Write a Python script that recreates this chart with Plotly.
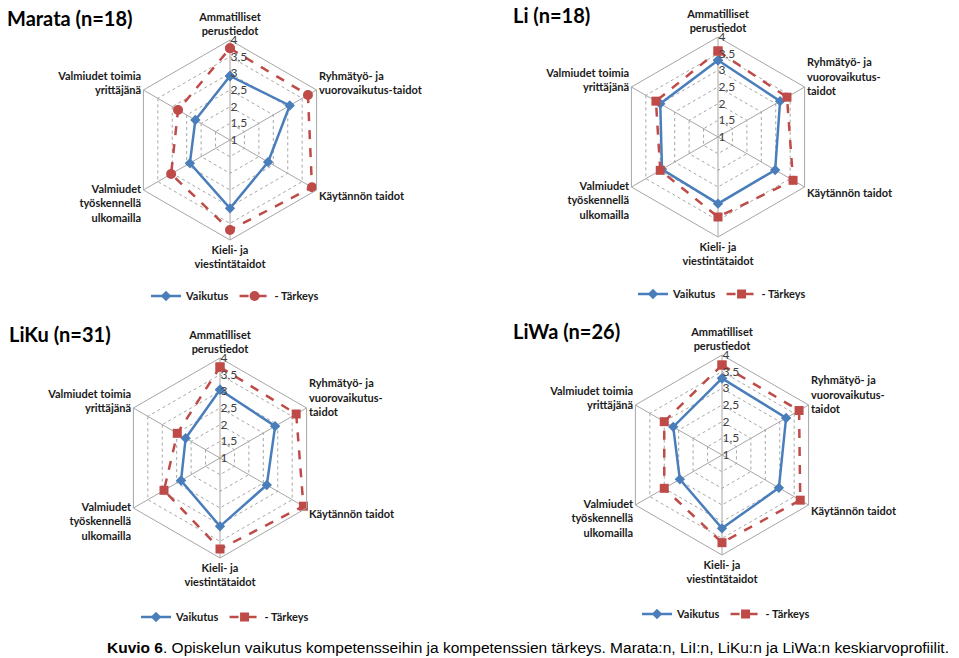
import plotly.graph_objects as go

W, H = 959, 658

# ---- data ----
cat_base = ["Ammatilliset<br>perustiedot",
            "Ryhmätyö- ja<br>vuorovaikutus-<br>taidot",
            "Käytännön taidot",
            "Kieli- ja<br>viestintätaidot",
            "Valmiudet<br>työskennellä<br>ulkomailla",
            "Valmiudet toimia<br>yrittäjänä"]
cat_marata = ["Ammatilliset<br>perustiedot",
              "Ryhmätyö- ja<br>vuorovaikutus-taidot",
              "Käytännön taidot",
              "Kieli- ja<br>viestintätaidot",
              "Valmiudet<br>työskennellä<br>ulkomailla",
              "Valmiudet toimia<br>yrittäjänä"]

titles = ["Marata (n=18)", "Li (n=18)", "LiKu (n=31)", "LiWa (n=26)"]

marata_vaikutus = [2.92, 3.07, 2.32, 3.05, 2.39, 2.20]
marata_tarkeys = [3.75, 3.70, 3.84, 3.70, 3.04, 2.80]
li_vaikutus = [3.30, 3.15, 2.98, 3.00, 2.94, 3.00]
li_tarkeys = [3.58, 3.39, 3.60, 3.40, 3.00, 3.15]
liku_vaikutus = [3.05, 2.91, 2.62, 3.05, 2.35, 2.19]
liku_tarkeys = [3.73, 3.64, 3.89, 3.73, 2.94, 2.48]
liwa_vaikutus = [3.30, 3.22, 2.97, 3.20, 2.46, 2.69]
liwa_tarkeys = [3.70, 3.67, 3.71, 3.63, 3.00, 3.00]

radial_ticks = [1, 1.5, 2, 2.5, 3, 3.5, 4]
radial_ticktext = ["1", "1,5", "2", "2,5", "3", "3,5", "4"]

series_names = ["Vaikutus", "- Tärkeys"]

# ---- layout helpers ----
panels = [
    dict(cats=cat_marata, v=marata_vaikutus, t=marata_tarkeys, sym="circle",
         c=(230, 140), title_xy=(5, 18), leg=(235, 296)),
    dict(cats=cat_base, v=li_vaikutus, t=li_tarkeys, sym="square",
         c=(718, 137), title_xy=(511, 15), leg=(722, 294)),
    dict(cats=cat_base, v=liku_vaikutus, t=liku_tarkeys, sym="square",
         c=(220, 458), title_xy=(7, 334), leg=(225, 617)),
    dict(cats=cat_base, v=liwa_vaikutus, t=liwa_tarkeys, sym="square",
         c=(722, 455), title_xy=(511, 331), leg=(726, 614)),
]
R = 100

BLUE = "#4A7EBB"
RED = "#BE4B48"
FONT = "Lato"

fig = go.Figure()
layout_extra = {}
annotations = []

for i, p in enumerate(panels):
    pid = "polar" if i == 0 else f"polar{i+1}"
    lid = "legend" if i == 0 else f"legend{i+1}"
    theta = p["cats"] + [p["cats"][0]]
    fig.add_trace(go.Scatterpolar(
        r=p["v"] + [p["v"][0]], theta=theta, mode="lines+markers",
        name=series_names[0], subplot=pid, legend=lid,
        line=dict(color=BLUE, width=2.5),
        marker=dict(symbol="diamond", size=8, color=BLUE)))
    fig.add_trace(go.Scatterpolar(
        r=p["t"] + [p["t"][0]], theta=theta, mode="lines+markers",
        name=series_names[1], subplot=pid, legend=lid,
        line=dict(color=RED, width=2.5, dash="dash"),
        marker=dict(symbol=p["sym"], size=10 if p["sym"] == "circle" else 9, color=RED)))
    cx, cy = p["c"]
    layout_extra[pid] = dict(
        domain=dict(x=[(cx - R) / W, (cx + R) / W], y=[1 - (cy + R) / H, 1 - (cy - R) / H]),
        gridshape="linear",
        bgcolor="white",
        radialaxis=dict(range=[1, 4], tickvals=radial_ticks, ticktext=radial_ticktext,
                        angle=90, tickangle=90, side="clockwise", showline=False, ticks="",
                        gridcolor="#A6A6A6", griddash="dot", gridwidth=1,
                        tickfont=dict(family=FONT, size=12, color="#404040")),
        angularaxis=dict(direction="clockwise", rotation=90, type="category",
                         categoryarray=p["cats"],
                         showline=True, linecolor="#A6A6A6", linewidth=1,
                         gridcolor="#A6A6A6", gridwidth=1, ticks="",
                         tickfont=dict(family=FONT, size=11, color="#1a1a1a", weight="bold")),
    )
    lx, ly = p["leg"]
    layout_extra[lid] = dict(orientation="h", x=lx / W, y=1 - ly / H,
                             xanchor="center", yanchor="middle",
                             font=dict(family=FONT, size=11, color="#1a1a1a", weight="bold"),
                             bgcolor="rgba(0,0,0,0)", itemwidth=30)
    tx, ty = p["title_xy"]
    annotations.append(dict(text=f"<b>{titles[i]}</b>", x=tx / W, y=1 - ty / H,
                            xref="paper", yref="paper", xanchor="left", yanchor="middle",
                            showarrow=False, font=dict(family=FONT, size=20, color="black")))

annotations.append(dict(
    text="<b>Kuvio 6</b>. Opiskelun vaikutus kompetensseihin ja kompetenssien tärkeys. "
         "Marata:n, LiI:n, LiKu:n ja LiWa:n keskiarvoprofiilit.",
    x=105 / W, y=1 - 647 / H, xref="paper", yref="paper", xanchor="left", yanchor="middle",
    showarrow=False, font=dict(family="Liberation Sans Narrow, Liberation Sans", size=15.5, color="black")))

fig.update_layout(
    width=W, height=H, margin=dict(l=0, r=0, t=0, b=0),
    paper_bgcolor="white", plot_bgcolor="white",
    showlegend=True, annotations=annotations, **layout_extra)

fig.write_html("out.html")
